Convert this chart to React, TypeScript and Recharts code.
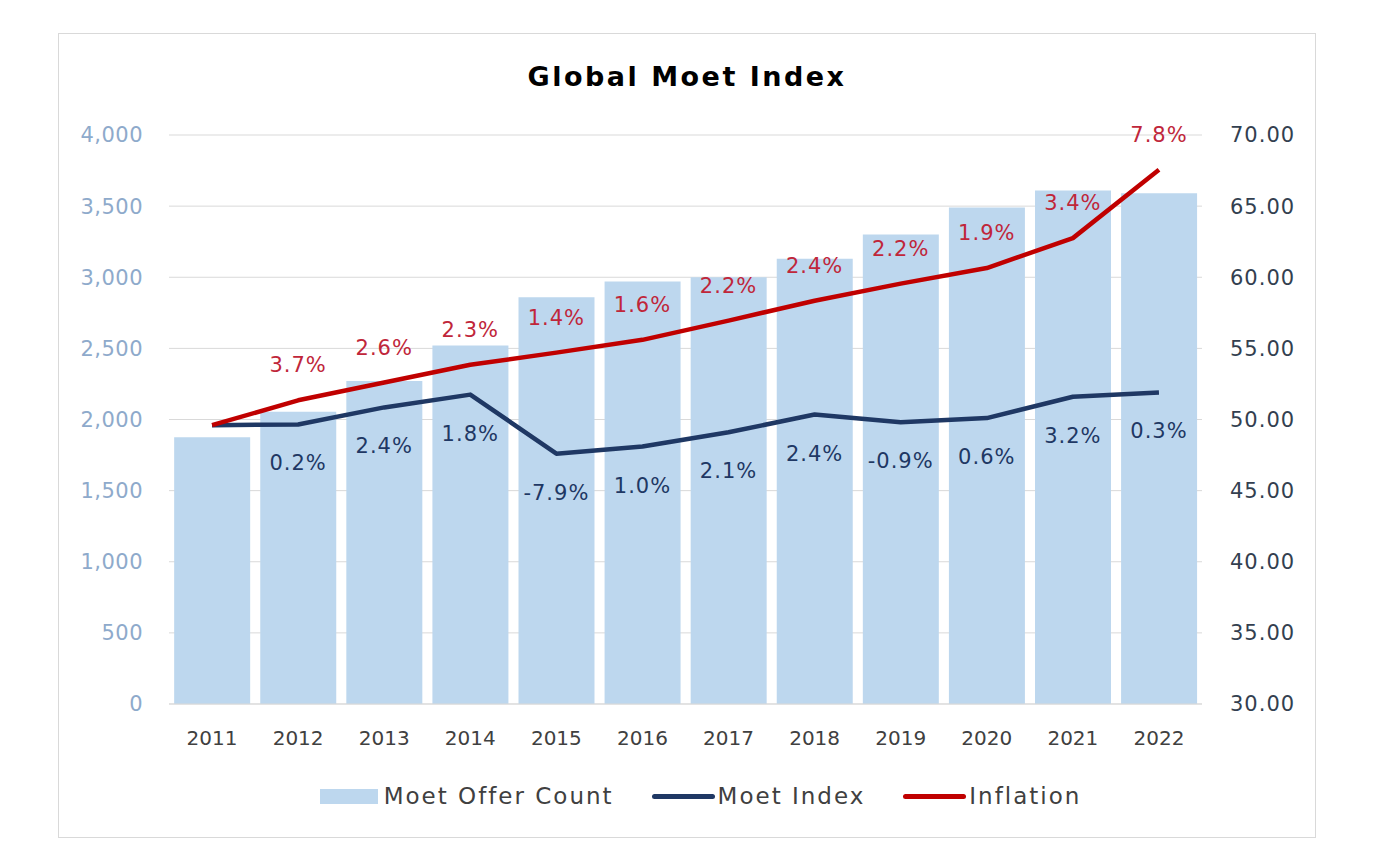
import React from "react";
import {
  ComposedChart,
  Bar,
  Line,
  XAxis,
  YAxis,
  CartesianGrid,
  Legend,
  LabelList,
} from "recharts";

const years = ["2011", "2012", "2013", "2014", "2015", "2016", "2017", "2018", "2019", "2020", "2021", "2022"];
const offerCount = [1875, 2055, 2270, 2520, 2860, 2970, 3000, 3130, 3300, 3490, 3610, 3590];
const moetIndex = [49.6, 49.65, 50.85, 51.75, 47.6, 48.1, 49.1, 50.35, 49.8, 50.1, 51.6, 51.9];
const inflation = [49.6, 51.35, 52.6, 53.85, 54.7, 55.6, 56.95, 58.35, 59.55, 60.65, 62.75, 67.55];
const moetLabels = ["", "0.2%", "2.4%", "1.8%", "-7.9%", "1.0%", "2.1%", "2.4%", "-0.9%", "0.6%", "3.2%", "0.3%"];
const inflationLabels = ["", "3.7%", "2.6%", "2.3%", "1.4%", "1.6%", "2.2%", "2.4%", "2.2%", "1.9%", "3.4%", "7.8%"];
const leftTicks = [0, 500, 1000, 1500, 2000, 2500, 3000, 3500, 4000];
const rightTicks = [30, 35, 40, 45, 50, 55, 60, 65, 70];

const data = years.map((year, i) => ({
  year,
  offers: offerCount[i],
  moet: moetIndex[i],
  inflation: inflation[i],
  moetLabel: moetLabels[i],
  inflationLabel: inflationLabels[i],
}));

const FONT = "'DejaVu Sans', sans-serif";
const BAR_COLOR = "#bdd7ee";
const NAVY = "#1f3864";
const RED = "#c00000";

const makeLabel = (labels: string[], dy: number, color: string) => (props: any) => {
  const { x, y, index } = props;
  const text = labels[index];
  if (!text) return null;
  return (
    <text
      x={x}
      y={y + dy}
      textAnchor="middle"
      dominantBaseline="central"
      fill={color}
      fontSize={21}
      letterSpacing={1}
      fontFamily={FONT}
    >
      {text}
    </text>
  );
};

const renderLegend = () => {
  const items = [
    { name: "Moet Offer Count", kind: "bar", color: BAR_COLOR },
    { name: "Moet Index", kind: "line", color: NAVY },
    { name: "Inflation", kind: "line", color: RED },
  ];
  return (
    <div style={{ display: "flex", justifyContent: "center", alignItems: "center", height: 30 }}>
      {items.map((it) => (
        <div key={it.name} style={{ display: "flex", alignItems: "center", margin: "0 19px" }}>
          {it.kind === "bar" ? (
            <div style={{ width: 58, height: 15, background: it.color, marginRight: 6 }} />
          ) : (
            <div style={{ width: 63, height: 5, borderRadius: 3, background: it.color, marginRight: 3 }} />
          )}
          <span style={{ fontFamily: FONT, fontSize: 23, letterSpacing: 2, color: "#404040" }}>{it.name}</span>
        </div>
      ))}
    </div>
  );
};

const App: React.FC = () => {
  return (
    <div
      style={{
        position: "relative",
        marginLeft: 50,
        marginTop: 25,
        width: 1258,
        height: 805,
        border: "1px solid #d9d9d9",
        boxSizing: "border-box",
        background: "#fff",
      }}
    >
      <div
        style={{
          position: "absolute",
          top: 27,
          left: 0,
          width: "100%",
          textAlign: "center",
          fontFamily: FONT,
          fontWeight: "bold",
          fontSize: 27,
          letterSpacing: 2.5,
          color: "#000",
        }}
      >
        Global Moet Index
      </div>
      <ComposedChart
        width={1256}
        height={803}
        data={data}
        margin={{ top: 101, right: 23, left: 50, bottom: 53 }}
        barCategoryGap="6%"
      >
        <CartesianGrid vertical={false} stroke="#d9d9d9" yAxisId="left" />
        <XAxis
          dataKey="year"
          axisLine={{ stroke: "#d9d9d9" }}
          tickLine={false}
          height={50}
          tickMargin={21}
          tick={{ fill: "#404040", fontSize: 20, fontFamily: FONT }}
        />
        <YAxis
          yAxisId="left"
          domain={[0, 4000]}
          ticks={leftTicks}
          width={60}
          axisLine={false}
          tickLine={false}
          tickMargin={20}
          tickFormatter={(v: number) => v.toLocaleString("en-US")}
          tick={{ fill: "#8eaacb", fontSize: 21, fontFamily: FONT, letterSpacing: 0.5 }}
        />
        <YAxis
          yAxisId="right"
          orientation="right"
          domain={[30, 70]}
          ticks={rightTicks}
          width={90}
          axisLine={false}
          tickLine={false}
          tickMargin={22}
          tickFormatter={(v: number) => v.toFixed(2)}
          tick={{ fill: "#333f50", fontSize: 21, fontFamily: FONT, letterSpacing: 1 }}
        />
        <Legend
          verticalAlign="bottom"
          content={renderLegend}
          wrapperStyle={{ bottom: 26 }}
        />
        <Bar
          yAxisId="left"
          dataKey="offers"
          name="Moet Offer Count"
          fill={BAR_COLOR}
          isAnimationActive={false}
        />
        <Line
          yAxisId="right"
          type="linear"
          dataKey="moet"
          name="Moet Index"
          stroke={NAVY}
          strokeWidth={4.5}
          strokeLinejoin="round"
          dot={false}
          isAnimationActive={false}
        >
          <LabelList dataKey="moetLabel" content={makeLabel(moetLabels, 39, NAVY)} />
        </Line>
        <Line
          yAxisId="right"
          type="linear"
          dataKey="inflation"
          name="Inflation"
          stroke={RED}
          strokeWidth={4.5}
          strokeLinejoin="round"
          dot={false}
          isAnimationActive={false}
        >
          <LabelList dataKey="inflationLabel" content={makeLabel(inflationLabels, -35, "#c0263a")} />
        </Line>
      </ComposedChart>
    </div>
  );
};

export default App;
